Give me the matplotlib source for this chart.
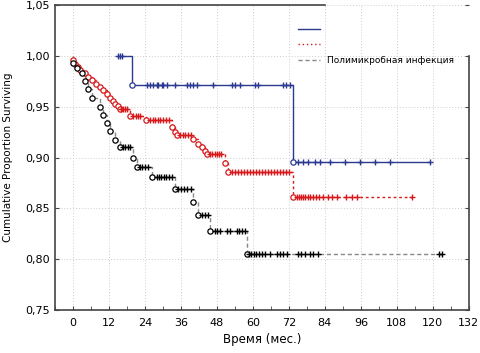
import numpy as np
import matplotlib
matplotlib.use("Agg")
import matplotlib.pyplot as plt
from matplotlib.ticker import FuncFormatter, MultipleLocator
from matplotlib.lines import Line2D

# Data (Kaplan-Meier steps)
blue_start = 15.0
blue_event_t = [19.6, 73.4]
blue_event_s = [0.971, 0.896]
blue_cens_t = [15, 15.7, 16.3, 24.6, 25.7, 26.8, 27.9, 28.4, 29.6, 30.1, 31.2, 34, 37.9, 39, 40.1,
               41.2, 46.8, 52.9, 54, 55.7, 60.7, 61.8, 70.1, 71.2, 72.3, 75.1, 76.8, 78.4, 80.7,
               82.3, 85.7, 90.7, 95.7, 100.7, 105.7, 119]

red_start = 0.0
red_event_t = [0.0, 0.7, 1.7, 2.3, 4, 5, 6.3, 7.7, 9, 10, 11.3, 12.3, 13.3, 14, 15, 15.7, 19, 24.5,
               33, 34, 34.6, 40, 41.7, 43, 44, 44.7, 50.7, 51.7, 73.3]
red_event_s = [0.996, 0.992, 0.989, 0.986, 0.983, 0.979, 0.976, 0.972, 0.969, 0.966, 0.962, 0.959,
               0.956, 0.953, 0.951, 0.948, 0.941, 0.937, 0.930, 0.925, 0.922, 0.918, 0.913, 0.910,
               0.906, 0.903, 0.895, 0.886, 0.861]
red_cens_t = [16, 16.7, 17.3, 18, 20, 21, 21.7, 22.3, 25.7, 26.7, 27.5, 28.3, 29, 30, 31, 32, 35.7,
              36.7, 37.5, 38.3, 39.3, 45.7, 46.5, 47.3, 48, 48.7, 49.5, 53, 54, 55, 56, 57, 58, 59,
              60, 61, 62, 63, 64, 65, 66, 67, 68, 69, 70, 71, 72, 74.6, 75.3, 76, 76.7, 77.5, 78.3,
              79, 80, 81, 82, 83.3, 85, 86.3, 88, 91, 93, 94.7, 113]

black_start = 0.0
black_event_t = [0.1, 1.5, 2.9, 4, 5, 6.2, 9, 10, 11.2, 12.3, 14, 15.7, 20, 21.2, 26.2, 34, 40.1,
                 41.8, 45.7, 57.9]
black_event_s = [0.993, 0.988, 0.983, 0.975, 0.967, 0.959, 0.950, 0.942, 0.934, 0.926, 0.917, 0.910,
                 0.900, 0.891, 0.881, 0.869, 0.856, 0.843, 0.828, 0.805]
black_cens_t = [16.7, 17.5, 18.3, 19, 22.3, 23, 24, 25, 28, 28.7, 29.5, 30.3, 31, 32, 33, 35, 36, 37,
                38, 39.3, 43, 44, 45, 47.3, 48, 49, 51.3, 52.3, 54.7, 55.5, 56.3, 57.3, 58.7, 59.5,
                60.3, 61, 62, 63, 64, 65.7, 68, 69, 70, 71.3, 75, 76, 77.3, 79, 80, 81.7, 122, 123]

legend_labels = ["", "", "Полимикробная инфекция"]
x_ticks = list(range(0, 133, 12))
y_ticks = [0.75, 0.80, 0.85, 0.90, 0.95, 1.00, 1.05]


def km_curve(ax, start, ev_t, ev_s, cens_t, line_color, mark_color, ls):
    ev_t = np.array(ev_t)
    ev_s = np.array(ev_s)
    cens_t = np.array(cens_t)
    end = max(cens_t.max(), ev_t.max())
    xs = np.concatenate([[start], ev_t, [end]])
    ys = np.concatenate([[1.0], ev_s, [ev_s[-1]]])
    ax.step(xs, ys, where="post", color=line_color, linestyle=ls, linewidth=1, zorder=3)
    ax.plot(ev_t, ev_s, "o", ms=3.8, mfc="white", mec=mark_color, mew=0.9, zorder=4)
    idx = np.searchsorted(ev_t, cens_t, side="right")
    cens_s = np.where(idx == 0, 1.0, ev_s[np.maximum(idx - 1, 0)])
    ax.plot(cens_t, cens_s, "+", ms=4.5, mec=mark_color, mew=1.0, zorder=4)


fig = plt.figure(figsize=(4.8, 3.53), dpi=100)
ax = fig.add_axes([0.1146, 0.1218, 0.862, 0.864])

blue = "#2b3990"
red = "#d7191c"
km_curve(ax, blue_start, blue_event_t, blue_event_s, blue_cens_t, blue, blue, "-")
km_curve(ax, red_start, red_event_t, red_event_s, red_cens_t, red, red, (0, (2, 2)))
km_curve(ax, black_start, black_event_t, black_event_s, black_cens_t, "#888888", "black", (0, (3, 2)))

ax.set_xlim(-6, 132)
ax.set_ylim(0.75, 1.05)
ax.set_xticks(x_ticks)
ax.set_yticks(y_ticks)
ax.xaxis.set_minor_locator(MultipleLocator(6))
ax.yaxis.set_major_formatter(FuncFormatter(lambda v, p: f"{v:.2f}".replace(".", ",")))
ax.tick_params(axis="both", which="both", direction="in", labelsize=8, top=False, right=True,
               length=3, color="#444444")
ax.tick_params(axis="x", pad=6)
ax.grid(True, which="major", linestyle=(0, (1, 2)), color="#cccccc", linewidth=0.7)
for s in ax.spines.values():
    s.set_color("#444444")
    s.set_linewidth(1.2)
# top-right corner of the frame is hidden behind the legend area
ax.spines["top"].set_bounds(-6, 84)
ax.spines["right"].set_bounds(0.75, 1.0)

ax.set_xlabel("Время (мес.)", fontsize=8.5, labelpad=3)
ax.set_ylabel("Cumulative Proportion Surviving", fontsize=7.5, labelpad=9)

handles = [Line2D([], [], color=blue, lw=1),
           Line2D([], [], color=red, lw=1, ls=(0, (1, 2))),
           Line2D([], [], color="#888888", lw=1, ls=(0, (3, 2)))]
leg = ax.legend(handles, legend_labels, loc="upper left", bbox_to_anchor=(0.587, 0.935),
                fontsize=6.5, frameon=False, handlelength=2.4, handletextpad=0.8,
                borderpad=0, borderaxespad=0, labelspacing=0.75)

fig.savefig("out.png", dpi=100)
